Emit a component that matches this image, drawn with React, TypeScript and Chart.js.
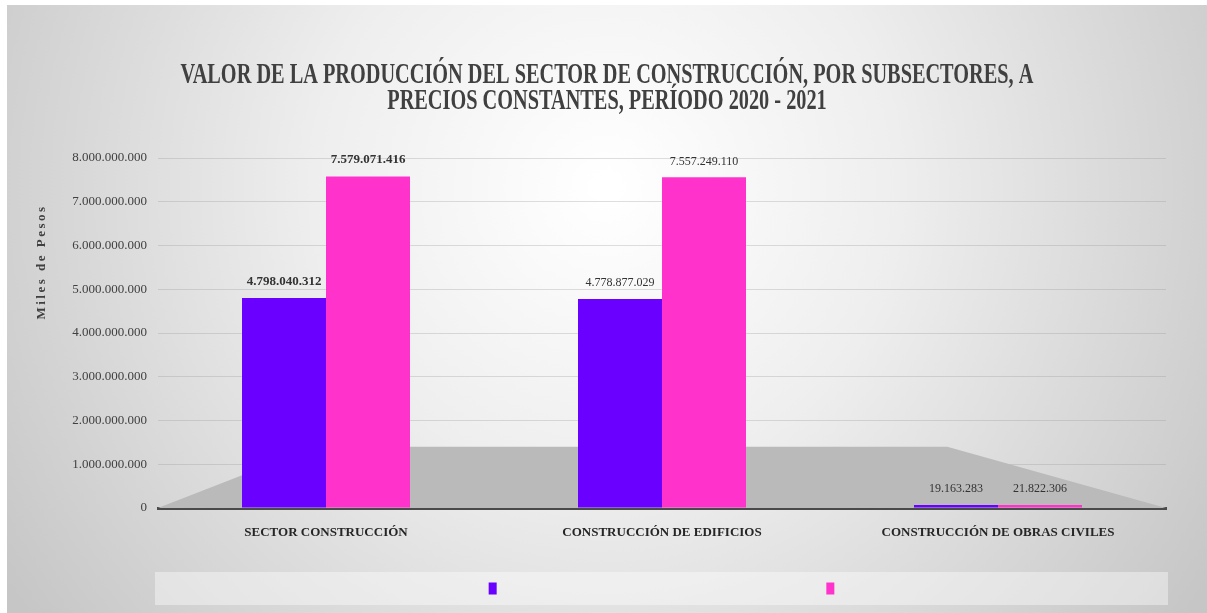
import React, { useEffect, useRef } from 'react';
import { Chart, registerables } from 'chart.js';

Chart.register(...registerables);

const TITLE_LINES = [
  'VALOR DE LA PRODUCCIÓN DEL SECTOR DE CONSTRUCCIÓN, POR SUBSECTORES, A',
  'PRECIOS CONSTANTES, PERÍODO 2020 - 2021',
];
const Y_AXIS_TITLE = 'Miles de Pesos';
const CATEGORIES = [
  'SECTOR CONSTRUCCIÓN',
  'CONSTRUCCIÓN DE EDIFICIOS',
  'CONSTRUCCIÓN DE OBRAS CIVILES',
];
const SERIES_NAMES = ['2020', '2021'];
const SERIES_2020 = [4798040312, 4778877029, 19163283];
const SERIES_2021 = [7579071416, 7557249110, 21822306];
const LABEL_BOLD = [true, false, false];
const Y_MIN = 0;
const Y_MAX = 8000000000;
const Y_STEP = 1000000000;
const FLOOR_DEPTH_VALUE = 1400000000;

const COLORS = ['#6a00ff', '#ff33cc'];
const SERIF = '"Liberation Serif", "Times New Roman", serif';

const fmt = (v: number) =>
  Math.round(v)
    .toString()
    .replace(/\B(?=(\d{3})+(?!\d))/g, '.');

export default function App() {
  const ref = useRef<HTMLCanvasElement>(null);

  useEffect(() => {
    const canvas = ref.current;
    if (!canvas) return;

    const bgPlugin = {
      id: 'bg',
      beforeDraw(chart: any) {
        const { ctx, width, height } = chart;
        const cx = width * 0.5;
        const cy = height * 0.3;
        const g = ctx.createRadialGradient(cx, cy, 10, cx, cy, width * 0.6);
        g.addColorStop(0, '#ffffff');
        g.addColorStop(0.4, '#eeeeee');
        g.addColorStop(1, '#c6c6c6');
        ctx.save();
        ctx.fillStyle = g;
        ctx.fillRect(0, 0, width, height);
        ctx.restore();
      },
    };

    const floorPlugin = {
      id: 'floor',
      beforeDatasetsDraw(chart: any) {
        const { ctx, chartArea: a, scales } = chart;
        const backY = scales.y.getPixelForValue(FLOOR_DEPTH_VALUE);
        const w = a.right - a.left;
        ctx.save();
        ctx.beginPath();
        ctx.moveTo(a.left, a.bottom);
        ctx.lineTo(a.right, a.bottom);
        ctx.lineTo(a.left + w * 0.783, backY);
        ctx.lineTo(a.left + w * 0.156, backY);
        ctx.closePath();
        ctx.fillStyle = '#bababa';
        ctx.fill();
        ctx.restore();
      },
    };

    const labelsPlugin = {
      id: 'valueLabels',
      afterDatasetsDraw(chart: any) {
        const { ctx } = chart;
        ctx.save();
        ctx.fillStyle = '#333333';
        ctx.textAlign = 'center';
        ctx.textBaseline = 'bottom';
        chart.data.datasets.forEach((ds: any, di: number) => {
          const meta = chart.getDatasetMeta(di);
          meta.data.forEach((bar: any, i: number) => {
            ctx.font = LABEL_BOLD[i] ? `bold 13px ${SERIF}` : `12px ${SERIF}`;
            ctx.fillText(fmt(ds.data[i]), bar.x, bar.y - 10);
          });
        });
        ctx.restore();
      },
    };

    const decorPlugin = {
      id: 'decor',
      afterDraw(chart: any) {
        const { ctx, width, chartArea: a } = chart;
        ctx.save();
        // Title (condensed serif look)
        ctx.font = `bold 29px ${SERIF}`;
        ctx.fillStyle = '#404040';
        ctx.textAlign = 'center';
        ctx.textBaseline = 'middle';
        TITLE_LINES.forEach((t, i) => {
          ctx.save();
          ctx.translate(width / 2, 71 + i * 26);
          ctx.scale(0.7, 1);
          ctx.fillText(t, 0, 0);
          ctx.restore();
        });
        // Y axis title
        ctx.save();
        ctx.translate(35, 257);
        ctx.rotate(-Math.PI / 2);
        ctx.font = `bold 13px ${SERIF}`;
        (ctx as any).letterSpacing = '2.5px';
        ctx.fillStyle = '#404040';
        ctx.fillText(Y_AXIS_TITLE, 0, 0);
        ctx.restore();
        // Legend box
        const lx = a.left - 3;
        const lw = a.right - a.left + 5;
        const ly = 567;
        const lh = 33;
        ctx.fillStyle = 'rgba(255,255,255,0.4)';
        ctx.fillRect(lx, ly, lw, lh);
        chart.data.datasets.forEach((ds: any, di: number) => {
          const mx = lx + (lw * (di + 1)) / 3;
          ctx.fillStyle = ds.backgroundColor;
          ctx.fillRect(mx - 4, ly + lh / 2 - 6, 8, 12);
        });
        ctx.restore();
      },
    };

    const chart = new Chart(canvas, {
      type: 'bar',
      data: {
        labels: CATEGORIES,
        datasets: [
          {
            label: SERIES_NAMES[0],
            data: SERIES_2020,
            backgroundColor: COLORS[0],
            borderWidth: 0,
            categoryPercentage: 0.5,
            barPercentage: 1,
            minBarLength: 3,
          },
          {
            label: SERIES_NAMES[1],
            data: SERIES_2021,
            backgroundColor: COLORS[1],
            borderWidth: 0,
            categoryPercentage: 0.5,
            barPercentage: 1,
            minBarLength: 3,
          },
        ],
      },
      options: {
        animation: false,
        responsive: true,
        maintainAspectRatio: false,
        layout: { padding: { top: 153, right: 41, left: 0, bottom: 0 } },
        plugins: {
          legend: { display: false },
          title: { display: false },
          tooltip: { enabled: false },
        },
        scales: {
          x: {
            z: 1,
            grid: { display: false, drawTicks: false },
            border: { display: true, color: '#4a4a4a', width: 3 },
            ticks: {
              color: '#262626',
              font: { family: SERIF, size: 13, weight: 'bold' },
              padding: 17,
              maxRotation: 0,
            },
            afterFit(scale: any) {
              scale.height = 105;
            },
          },
          y: {
            min: Y_MIN,
            max: Y_MAX,
            grid: { color: 'rgba(150,150,150,0.3)', drawTicks: false },
            border: { display: false },
            ticks: {
              stepSize: Y_STEP,
              color: '#404040',
              font: { family: SERIF, size: 13 },
              padding: 11,
              callback: (v: any) => fmt(Number(v)),
            },
            afterFit(scale: any) {
              scale.width = 151;
            },
          },
        },
      },
      plugins: [bgPlugin, floorPlugin, labelsPlugin, decorPlugin],
    });

    return () => chart.destroy();
  }, []);

  return (
    <div style={{ position: 'fixed', left: 7, top: 5, width: 1200, height: 608 }}>
      <canvas ref={ref} />
    </div>
  );
}
